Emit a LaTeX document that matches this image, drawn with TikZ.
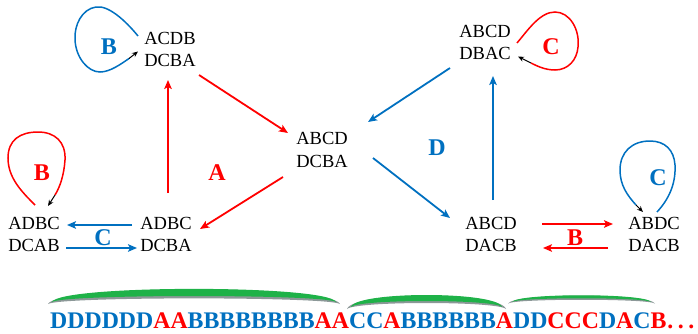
\documentclass[tikz,border=0pt]{standalone}
\usepackage{fontspec}
\setmainfont{Liberation Serif}
\newfontfamily\diagfont{Liberation Serif}
\usetikzlibrary{arrows.meta}
\definecolor{myblue}{RGB}{0,112,192}
\definecolor{myred}{RGB}{255,0,0}
\definecolor{arcgreen}{RGB}{30,178,72}
\definecolor{arcgray}{RGB}{140,152,152}
\newcommand\seqB[1]{\textcolor{myblue}{#1}}
\newcommand\seqR[1]{\textcolor{myred}{#1}}
\begin{document}
\begin{tikzpicture}[x=1pt,y=-1pt,
  state/.style={align=center,inner sep=0pt,font=\diagfont\fontsize{18.5}{22.5}\selectfont},
  lbl/.style={inner sep=0pt,font=\diagfont\fontsize{24}{24}\selectfont\bfseries},
  headtip/.style={-{Stealth[length=9pt,width=7.5pt,inset=2pt]}},
  redarr/.style={headtip,draw=myred,line width=1.8pt},
  bluearr/.style={headtip,draw=myblue,line width=1.8pt},
  loopred/.style={draw=myred,line width=1.5pt},
  loopblue/.style={draw=myblue,line width=1.5pt},
  looptip/.style={-{Stealth[length=6pt,width=5pt]},draw=black,line width=1pt},
  arcshade/.style={fill=arcgray},
  arcfill/.style={fill=arcgreen},
]
\useasboundingbox (0,0) rectangle (698,333);

% states
\node[state] (tl) at (170,49.5)  {ACDB\\DCBA};
\node[state] (c)  at (322,150)   {ABCD\\DCBA};
\node[state] (tr) at (485,42.5)  {ABCD\\DBAC};
\node[state] (l1) at (34,234.5)  {ADBC\\DCAB};
\node[state] (l2) at (166,234.5) {ADBC\\DCBA};
\node[state] (r1) at (491,234.5) {ABCD\\DACB};
\node[state] (r2) at (654,234.5) {ABDC\\DACB};

% transitions
\draw[redarr]  ([shift={(29,25.5)}]tl.center) -- ([shift={(-34,-17)}]c.center);
\draw[redarr]  ([shift={(2,-41.5)}]l2.center) -- ([shift={(-2,30.5)}]tl.center);
\draw[redarr]  ([shift={(-39,27)}]c.center)   -- ([shift={(34,-5.5)}]l2.center);
\draw[bluearr] ([shift={(-35,25.5)}]tr.center) -- ([shift={(46,-28)}]c.center);
\draw[bluearr] ([shift={(2,-34.5)}]r1.center) -- ([shift={(8,33.5)}]tr.center);
\draw[bluearr] ([shift={(51,8)}]c.center)     -- ([shift={(-41,-16.5)}]r1.center);
\draw[bluearr] ([shift={(-34,-9.5)}]l2.center) -- ([shift={(33,-9.5)}]l1.center);
\draw[bluearr] ([shift={(32,13.5)}]l1.center) -- ([shift={(-29,13.5)}]l2.center);
\draw[redarr]  ([shift={(51,-10.5)}]r1.center) -- ([shift={(-41,-10.5)}]r2.center);
\draw[redarr]  ([shift={(-46,13.5)}]r2.center) -- ([shift={(52,13.5)}]r1.center);

% self loops
\begin{scope}[shift={(tl.center)}]
  \draw[loopblue] (-32,-13.5) .. controls (-45,-29.5) and (-62,-44.5) .. (-74,-42.5)
    .. controls (-88,-40.5) and (-96,-24.5) .. (-95,-9.5)
    .. controls (-94,8.5) and (-82,22.5) .. (-70,22.5)
    .. controls (-60,22.5) and (-49,14.5) .. (-41,9);
  \draw[looptip] (-41,9) -- (-32,2);
\end{scope}
\begin{scope}[shift={(tr.center)}]
  \draw[loopred] (32,0.5) .. controls (43,-12.5) and (55,-30.5) .. (70,-30.5)
    .. controls (85,-30.5) and (95,-12.5) .. (93,4.5)
    .. controls (92,17.5) and (83,27.5) .. (70,27.5)
    .. controls (60,27.5) and (52,23.5) .. (46,20.5);
  \draw[looptip] (46,20.5) -- (33,14);
\end{scope}
\begin{scope}[shift={(l1.center)}]
  \draw[loopred] (1,-29.5) .. controls (-12,-42.5) and (-26,-56.5) .. (-26,-76.5)
    .. controls (-26,-94.5) and (-14,-102.5) .. (4,-102.5)
    .. controls (21,-102.5) and (32,-92.5) .. (31,-74.5)
    .. controls (30,-59.5) and (26,-47.5) .. (21,-39.5);
  \draw[looptip] (21,-39.5) -- (14,-28.5);
\end{scope}
\begin{scope}[shift={(r2.center)}]
  \draw[loopblue] (3,-22.5) .. controls (14,-34.5) and (22,-49.5) .. (21,-69.5)
    .. controls (20,-84.5) and (11,-93.5) .. (-4,-93.5)
    .. controls (-22,-93.5) and (-34,-82.5) .. (-34,-64.5)
    .. controls (-34,-49.5) and (-27,-39.5) .. (-18,-29.5);
  \draw[looptip] (-18,-29.5) -- (-11,-22.5);
\end{scope}

% action labels
\node[lbl,text=myblue] (lb1) at (109,47)  {B};
\node[lbl,text=myred]  (lc1) at (551,47)  {C};
\node[lbl,text=myred]  (lb2) at (42,173)  {B};
\node[lbl,text=myblue] (lc2) at (658,178) {C};
\node[lbl,text=myred]  (la)  at (217,173) {A};
\node[lbl,text=myblue] (ld)  at (437,148) {D};
\node[lbl,text=myblue] (lc3) at (103,238) {C};
\node[lbl,text=myred]  (lb3) at (575,238) {B};

% grouping arcs over the sequence
\fill[arcshade] (48,304) .. controls (57,284.5) and (331,284.5) .. (340,304)
  .. controls (329,296.5) and (59,296.5) .. (48,304) -- cycle;
\fill[arcfill] (52,302) .. controls (60,284.5) and (328,284.5) .. (336,302)
  .. controls (326,294) and (62,294) .. (52,302) -- cycle;
\fill[arcshade] (347,309) .. controls (353,291) and (500,291) .. (506,309)
  .. controls (498,301) and (355,301) .. (347,309) -- cycle;
\fill[arcfill] (351,307) .. controls (356,291) and (497,291) .. (502,307)
  .. controls (495,299) and (358,299) .. (351,307) -- cycle;
\fill[arcshade] (508,303.5) .. controls (514,293) and (649,293) .. (655,303.5)
  .. controls (648,298.5) and (515,298.5) .. (508,303.5) -- cycle;
\fill[arcfill] (512,302) .. controls (517,293) and (646,293) .. (651,302)
  .. controls (645,297) and (518,297) .. (512,302) -- cycle;

% action sequence
\node[anchor=base west,inner sep=0pt,font=\diagfont\fontsize{23.8}{23.8}\selectfont\bfseries] (seq) at (50,328.5)
  {\seqB{DDDDDD}\seqR{AA}\seqB{BBBBBBBB}\seqR{AA}\seqB{CC}\seqR{A}\seqB{BBBBBB}\seqR{A}\seqB{DD}\seqR{CCC}\seqB{D}\seqR{A}\seqB{C}\seqR{B\kern1pt.\kern4.5pt.\kern4.5pt.}};
\end{tikzpicture}
\end{document}
